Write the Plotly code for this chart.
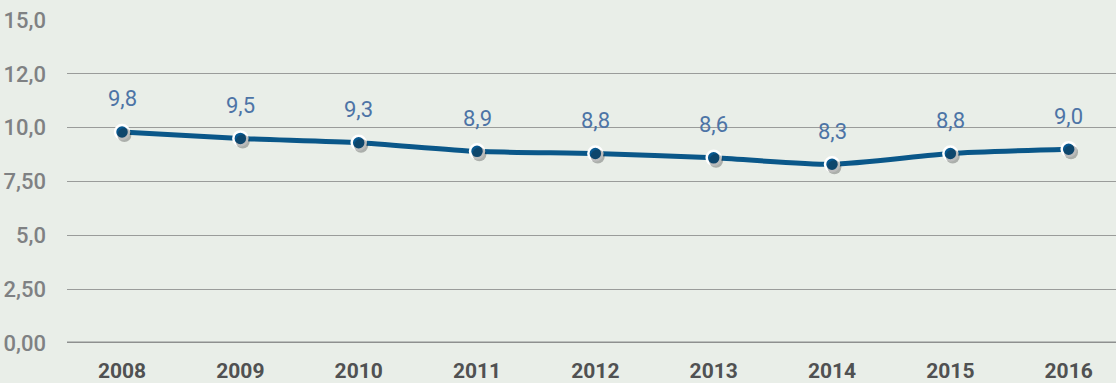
import plotly.graph_objects as go

years = ["2008", "2009", "2010", "2011", "2012", "2013", "2014", "2015", "2016"]
values = [9.8, 9.5, 9.3, 8.9, 8.8, 8.6, 8.3, 8.8, 9.0]
value_labels = ["9,8", "9,5", "9,3", "8,9", "8,8", "8,6", "8,3", "8,8", "9,0"]
y_ticks = [0, 2.5, 5, 7.5, 10, 12.5, 15]
y_tick_labels = ["0,00", "2,50", "5,0", "7,50", "10,0", "12,0", "15,0"]

FONT = "Roboto, sans-serif"
BG = "#e9eee8"
LINE = "#0a5789"

x = list(range(len(years)))
X_RANGE = [-0.465, 8.40]

fig = go.Figure()

# soft drop shadow under the markers, nudged down and to the right
fig.add_trace(go.Scatter(
    x=x, y=values, mode="markers",
    marker=dict(size=14, color="rgba(30,30,30,0.30)", line=dict(width=0)),
    hoverinfo="skip", showlegend=False,
    xaxis="x2", yaxis="y2",
))

fig.add_trace(go.Scatter(
    x=x, y=values, mode="lines+markers",
    line=dict(color=LINE, width=5, shape="spline", smoothing=0.6),
    marker=dict(size=14, color="#08588f", line=dict(color="white", width=2.5)),
    showlegend=False,
))

for xi, v, lab in zip(x, values, value_labels):
    fig.add_annotation(
        x=xi, y=v, text=lab, showarrow=False, yshift=33,
        font=dict(family=FONT, size=22, color="#4d74a6"),
    )

fig.update_layout(
    width=1116, height=383,
    margin=dict(l=67, r=0, t=20, b=38),
    paper_bgcolor=BG, plot_bgcolor=BG,
    xaxis=dict(
        range=X_RANGE, tickvals=x, ticktext=years,
        showgrid=False, zeroline=False, showline=False,
        ticks="", tickfont=dict(family=FONT, size=21, color="#505152", weight="bold"),
        ticklabelstandoff=13,
    ),
    xaxis2=dict(
        range=[X_RANGE[0] - 0.02, X_RANGE[1] - 0.02], overlaying="x", visible=False,
    ),
    yaxis=dict(
        range=[0, 15], tickvals=y_ticks, ticktext=y_tick_labels,
        showgrid=True, gridcolor="#9a9c9a", gridwidth=1,
        zeroline=False, showline=False, ticks="",
        tickfont=dict(family=FONT, size=22, color="#7f8183", weight=500),
        ticklabelstandoff=20,
    ),
    yaxis2=dict(
        range=[0.14, 15.14], overlaying="y", visible=False,
    ),
    shapes=[dict(
        type="line", xref="paper", yref="y", x0=0, x1=1, y0=0, y1=0,
        line=dict(color="#8e908f", width=3),
    )],
)

fig.write_html("out.html")
